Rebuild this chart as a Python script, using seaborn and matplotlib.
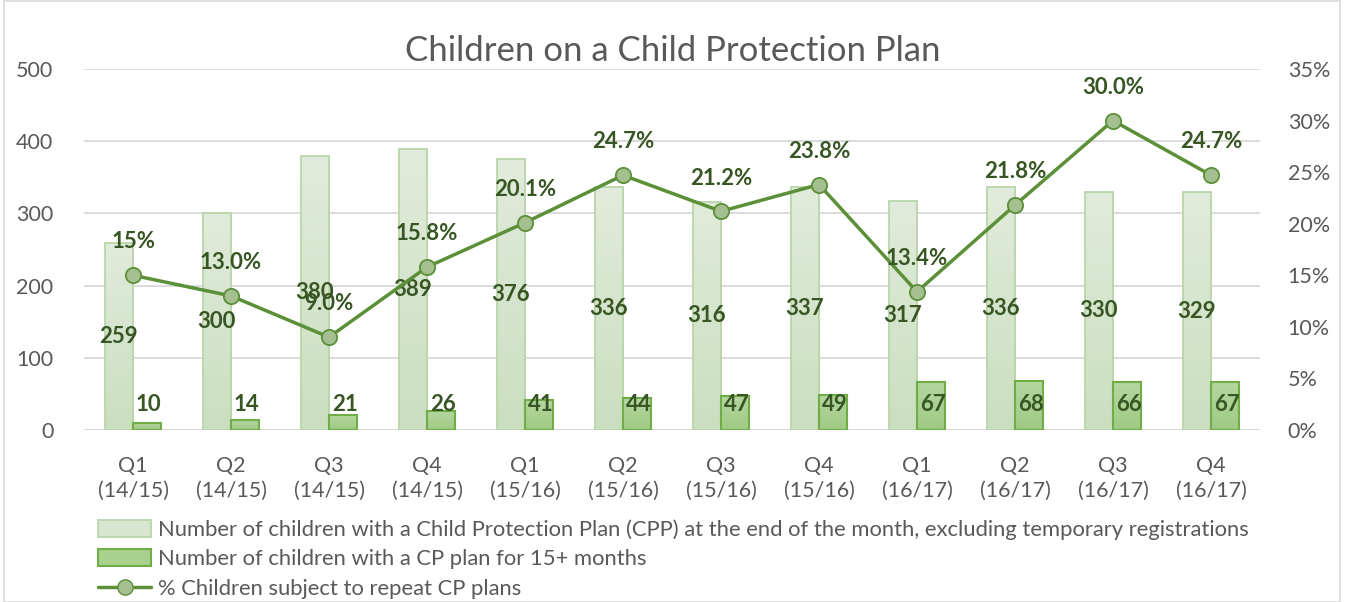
import numpy as np
import pandas as pd
import matplotlib
matplotlib.use("Agg")
import matplotlib.pyplot as plt
import seaborn as sns
from matplotlib.patches import Rectangle
from matplotlib.lines import Line2D
from matplotlib.colors import LinearSegmentedColormap

quarters = ["Q1", "Q2", "Q3", "Q4", "Q1", "Q2", "Q3", "Q4", "Q1", "Q2", "Q3", "Q4"]
years = ["(14/15)"] * 4 + ["(15/16)"] * 4 + ["(16/17)"] * 4
cpp_total = [259, 300, 380, 389, 376, 336, 316, 337, 317, 336, 330, 329]
cpp_15plus = [10, 14, 21, 26, 41, 44, 47, 49, 67, 68, 66, 67]
repeat_pct = [15.0, 13.0, 9.0, 15.8, 20.1, 24.7, 21.2, 23.8, 13.4, 21.8, 30.0, 24.7]
pct_labels = ["15%", "13.0%", "9.0%", "15.8%", "20.1%", "24.7%", "21.2%", "23.8%",
              "13.4%", "21.8%", "30.0%", "24.7%"]

s1 = "Number of children with a Child Protection Plan (CPP) at the end of the month, excluding temporary registrations"
s2 = "Number of children with a CP plan for 15+ months"
s3 = "% Children subject to repeat CP plans"

cats = [f"{q}\n{y}" for q, y in zip(quarters, years)]

sns.set_theme(style="white")
plt.rcParams['font.family'] = ['Lato', 'DejaVu Sans']

fig = plt.figure(figsize=(13.49, 6.02), dpi=100)
ax = fig.add_axes([0.0623, 0.2857, 0.8717, 0.5997])

df = pd.DataFrame({
    "cat": cats * 2,
    "series": [s1] * 12 + [s2] * 12,
    "value": cpp_total + cpp_15plus,
})

sns.barplot(data=df, x="cat", y="value", hue="series", order=cats, hue_order=[s1, s2],
            palette=["#d5e5cc", "#a9d18e"], width=0.58, gap=0, ax=ax, legend=False,
            saturation=1)

n = len(cats)
cmap_big = LinearSegmentedColormap.from_list("big", ["#cadfbf", "#e1ebdb"])
cmap_small = LinearSegmentedColormap.from_list("small", ["#9fca84", "#b5d6a0"])
grad = np.linspace(0, 1, 64).reshape(-1, 1)
for i, p in enumerate(ax.patches[:2 * n]):
    x0, w, h = p.get_x(), p.get_width(), p.get_height()
    cm = cmap_big if i < n else cmap_small
    im = ax.imshow(grad, cmap=cm, origin="lower", aspect="auto",
                   extent=[x0, x0 + w, 0, h], zorder=1.5, interpolation="bilinear")
    im.set_clip_path(p)
    p.set_facecolor("none")
    p.set_zorder(2)
    if i < n:
        p.set_edgecolor("#b9d5aa")
        p.set_linewidth(1.3)
    else:
        p.set_edgecolor("#70ad47")
        p.set_linewidth(1.5)

lab_color = "#375623"
for i, p in enumerate(ax.patches[:2 * n]):
    cx = p.get_x() + p.get_width() / 2
    h = p.get_height()
    if i < n:
        ax.text(cx, h / 2, f"{int(round(h))}", ha="center", va="center",
                fontsize=16, fontweight="bold", color=lab_color, zorder=5)
    else:
        ax.text(cx + 0.015, max(h / 2, 36), f"{int(round(h))}", ha="center", va="center",
                fontsize=16, fontweight="bold", color=lab_color, zorder=5)

ax.set_ylim(0, 500)
ax.set_yticks(range(0, 501, 100))
ax.set_xlim(-0.5, n - 0.5)
ax.yaxis.grid(True, color="#d9d9d9", linewidth=1.3)
ax.set_axisbelow(True)
for s in ax.spines.values():
    s.set_visible(False)
ax.axhline(0, color="#d9d9d9", linewidth=1.3, zorder=0)
ax.set_xlabel("")
ax.set_ylabel("")
ax.tick_params(axis="both", length=0, labelsize=15.5, labelcolor="#595959")
ax.tick_params(axis="x", pad=19)
ax.tick_params(axis="y", pad=22)
for t in ax.get_xticklabels():
    t.set_linespacing(1.3)

ax2 = ax.twinx()
ldf = pd.DataFrame({"x": np.arange(n), "pct": repeat_pct})
sns.lineplot(data=ldf, x="x", y="pct", ax=ax2, color="#5b9038", linewidth=2.5,
             marker="o", markersize=11, markerfacecolor="#a5c090",
             markeredgecolor="#5b9038", markeredgewidth=1.3, legend=False)
ax2.set_ylim(0, 35)
ax2.set_yticks(range(0, 36, 5))
ax2.set_yticklabels([f"{v}%" for v in range(0, 36, 5)])
ax2.set_xlim(-0.5, n - 0.5)
ax2.set_ylabel("")
ax2.set_xlabel("")
for s in ax2.spines.values():
    s.set_visible(False)
ax2.tick_params(axis="y", length=0, labelsize=15.5, labelcolor="#595959", pad=20)
ax2.grid(False)

for i, (v, lab) in enumerate(zip(repeat_pct, pct_labels)):
    ax2.annotate(lab, (i, v), xytext=(0, 24), textcoords="offset points",
                 ha="center", va="center", fontsize=16, fontweight="bold", color=lab_color)

fig.text(0.499, 0.915, "Children on a Child Protection Plan", ha="center", va="center",
         fontsize=25, color="#595959")

handles = [
    Rectangle((0, 0), 1, 1, facecolor="#d8e6d0", edgecolor="#b9d5aa", linewidth=1.3),
    Rectangle((0, 0), 1, 1, facecolor="#a9d18e", edgecolor="#70ad47", linewidth=1.5),
    Line2D([0], [0], color="#5b9038", linewidth=2.5, marker="o", markersize=11,
           markerfacecolor="#a5c090", markeredgecolor="#5b9038"),
]
leg = fig.legend(handles, [s1, s2, s3], loc="upper left", bbox_to_anchor=(0.073, 0.137),
                 frameon=False, fontsize=15.8, labelcolor="#595959", handlelength=2.4,
                 handleheight=0.8, handletextpad=0.3, labelspacing=0.42,
                 borderaxespad=0, borderpad=0)

border = Rectangle((0.003, 0.0), 0.99, 0.998, transform=fig.transFigure, fill=False,
                   edgecolor="#d9d9d9", linewidth=1.2)
fig.patches.append(border)

fig.savefig("out.png", dpi=100, facecolor="white")
